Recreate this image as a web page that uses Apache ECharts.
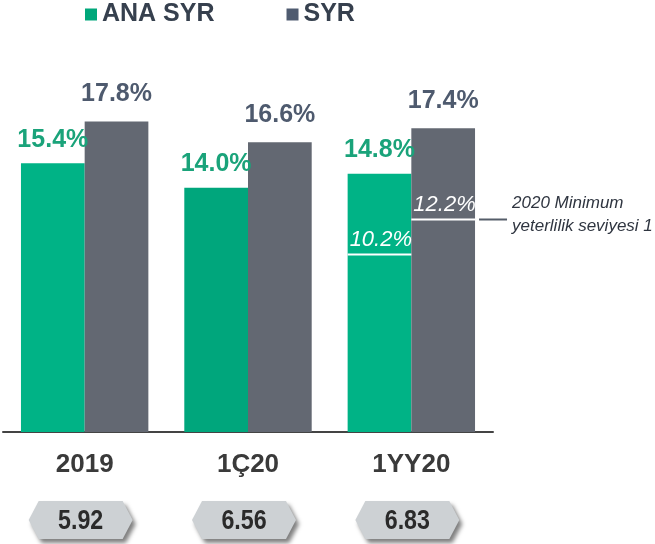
<!DOCTYPE html>
<html>
<head>
<meta charset="utf-8">
<script src="https://cdn.jsdelivr.net/npm/echarts@6/dist/echarts.min.js"></script>
<style>
  html, body { margin: 0; padding: 0; background: #fff; }
  #main { width: 655px; height: 544px; }
</style>
</head>
<body>
<div id="main"></div>
<script>
var categories = ["2019", "1Ç20", "1YY20"];
var anaSyr = [15.4, 14.0, 14.8];
var syr = [17.8, 16.6, 17.4];
var badgeValues = ["5.92", "6.56", "6.83"];
var anaMinimum = [null, null, 10.2];
var syrMinimum = [null, null, 12.2];

var greenColors = ["#00b386", "#00a67c", "#00b386"];
var sans = "'Liberation Sans', Arial, sans-serif";

var anaData = anaSyr.map(function (v, i) {
  return { value: v, itemStyle: { color: greenColors[i] } };
});

function minimumData(arr) {
  var out = [];
  arr.forEach(function (v, i) {
    if (v !== null) out.push([i, v]);
  });
  return out;
}

function renderMinimum(kind) {
  return function (params, api) {
    var pt = api.coord([api.value(0), api.value(1)]);
    var band = api.size([1, 0])[0];
    var barW = band * 0.39;
    var x0 = kind === "ana" ? pt[0] - barW : pt[0];
    var x1 = x0 + barW;
    var y = Math.round(pt[1]) + 0.5;
    var children = [
      { type: "line", shape: { x1: x0, y1: y, x2: x1, y2: y }, style: { stroke: "#ffffff", lineWidth: 2 } },
      {
        type: "text",
        style: {
          text: api.value(1).toFixed(1) + "%", x: x0 + 2, y: y - 15,
          textAlign: "left", textVerticalAlign: "middle",
          font: "italic 22px " + sans, fill: "#ffffff"
        }
      }
    ];
    if (kind === "syr") {
      children.push({ type: "line", shape: { x1: x1 + 4, y1: y, x2: x1 + 32, y2: y }, style: { stroke: "#555d69", lineWidth: 2 } });
      children.push({
        type: "text",
        style: {
          text: "2020 Minimum", x: x1 + 37, y: y - 16,
          textAlign: "left", textVerticalAlign: "middle",
          font: "italic 17px " + sans, fill: "#2f3540"
        }
      });
      children.push({
        type: "text",
        style: {
          text: "yeterlilik seviyesi 1", x: x1 + 37, y: y + 7,
          textAlign: "left", textVerticalAlign: "middle",
          font: "italic 17px " + sans, fill: "#2f3540"
        }
      });
    }
    return { type: "group", children: children };
  };
}

var option = {
  backgroundColor: "#ffffff",
  animation: false,
  legend: {
    left: 80,
    top: -3,
    icon: "rect",
    itemWidth: 12,
    itemHeight: 12,
    itemGap: 72,
    textStyle: { fontSize: 25, fontWeight: "bold", color: "#36404e", fontFamily: sans },
    data: [
      { name: "ANA SYR", itemStyle: { color: "#00a77a" } },
      { name: "SYR", itemStyle: { color: "#4f5b70" } }
    ]
  },
  grid: { left: 3, right: 162, top: 83, bottom: 112 },
  xAxis: {
    type: "category",
    data: categories,
    axisLine: { lineStyle: { color: "#444444", width: 2 } },
    axisTick: { show: false },
    axisLabel: {
      margin: 20,
      fontSize: 26,
      fontWeight: "bold",
      color: "#3a3a3a",
      fontFamily: sans
    }
  },
  yAxis: {
    type: "value",
    min: 0,
    max: 20,
    show: false,
    splitLine: { show: false }
  },
  series: [
    {
      name: "ANA SYR",
      type: "bar",
      data: anaData,
      barGap: "0%",
      barCategoryGap: "22%",
      label: {
        show: true,
        position: "top",
        distance: 11,
        formatter: function (p) { return p.value.toFixed(1) + "%"; },
        fontSize: 25,
        fontWeight: "bold",
        color: "#1aa37a",
        fontFamily: sans
      }
    },
    {
      name: "SYR",
      type: "bar",
      data: syr,
      itemStyle: { color: "#636872" },
      label: {
        show: true,
        position: "top",
        distance: 15,
        formatter: function (p) { return p.value.toFixed(1) + "%"; },
        fontSize: 25,
        fontWeight: "bold",
        color: "#4e5a6e",
        fontFamily: sans
      }
    },
    {
      type: "custom",
      data: minimumData(anaMinimum),
      renderItem: renderMinimum("ana"),
      z: 5
    },
    {
      type: "custom",
      data: minimumData(syrMinimum),
      renderItem: renderMinimum("syr"),
      z: 5
    },
    {
      type: "custom",
      data: badgeValues.map(function (v, i) { return [i, 0]; }),
      renderItem: function (params, api) {
        var idx = api.value(0);
        var base = api.coord([idx, 0]);
        var x = base[0] - 4;
        var y = base[1] + 88;
        var hw = 52, hh = 19, tip = 10;
        return {
          type: "group",
          children: [
            {
              type: "polygon",
              shape: { points: [[x - hw, y], [x - hw + tip, y - hh], [x + hw - tip, y - hh], [x + hw, y], [x + hw - tip, y + hh], [x - hw + tip, y + hh]] },
              style: { fill: "#cdd1d4", shadowBlur: 4, shadowOffsetX: 3, shadowOffsetY: 4, shadowColor: "rgba(0,0,0,0.5)" }
            },
            {
              type: "text",
              x: x,
              y: y + 1,
              scaleX: 0.83,
              style: {
                text: badgeValues[idx], x: 0, y: 0,
                textAlign: "center", textVerticalAlign: "middle",
                font: "bold 28px " + sans, fill: "#2a2a2a"
              }
            }
          ]
        };
      }
    }
  ]
};

var myChart = echarts.init(document.getElementById("main"));
myChart.setOption(option);
</script>
</body>
</html>
